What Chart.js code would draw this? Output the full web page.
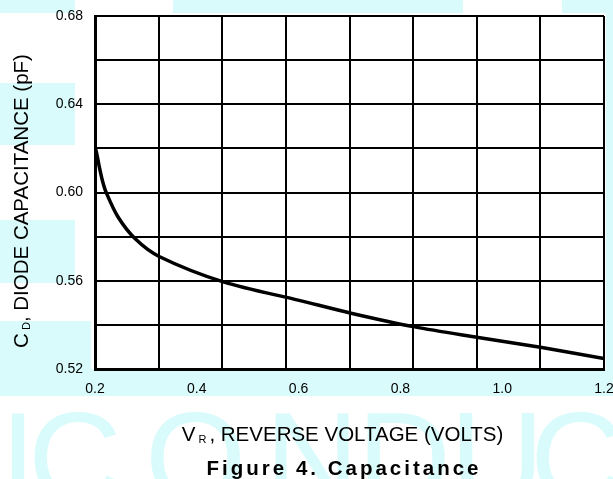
<!DOCTYPE html>
<html>
<head>
<meta charset="utf-8">
<script src="https://cdn.jsdelivr.net/npm/chart.js@4.4.0/dist/chart.umd.min.js"></script>
<style>
  html, body { margin: 0; padding: 0; background: #fff; }
</style>
</head>
<body>
<canvas id="capacitance" width="613" height="479"></canvas>
<script>
// values
var voltage     = [0.200, 0.204, 0.209, 0.215, 0.222, 0.245, 0.279, 0.326, 0.452, 0.603, 0.703, 0.828, 0.953, 1.078, 1.200];
var capacitance = [0.621, 0.617, 0.611, 0.605, 0.600, 0.589, 0.579, 0.571, 0.5595, 0.551, 0.5453, 0.5391, 0.5343, 0.5297, 0.5247];

var xGridTicks  = [0.2, 0.325, 0.45, 0.575, 0.7, 0.825, 0.95, 1.075, 1.2];
var xLabelTicks = [0.2, 0.4, 0.6, 0.8, 1.0, 1.2];
var yGridTicks  = [0.52, 0.54, 0.56, 0.58, 0.60, 0.62, 0.64, 0.66, 0.68];
var yLabelTicks = [0.52, 0.56, 0.60, 0.64, 0.68];

var FONT = '"Liberation Sans", Arial, sans-serif';
var CYAN = '#dafbfb';

function drawPieces(ctx, pieces, cx, baseline) {
  var total = 0;
  pieces.forEach(function(p) {
    ctx.font = (p.bold ? 'bold ' : '') + p.size + 'px ' + FONT;
    p.w = ctx.measureText(p.t).width;
    total += p.w;
  });
  var x = cx - total / 2;
  pieces.forEach(function(p) {
    ctx.font = (p.bold ? 'bold ' : '') + p.size + 'px ' + FONT;
    ctx.fillText(p.t, x, baseline + (p.dy || 0));
    x += p.w;
  });
}

var watermark = {
  id: 'watermark',
  beforeDraw: function(chart) {
    var ctx = chart.ctx;
    ctx.save();
    ctx.fillStyle = '#fff';
    ctx.fillRect(0, 0, chart.width, chart.height);
    ctx.fillStyle = CYAN;
    ctx.fillRect(0, 0, 75, 13);
    ctx.fillRect(173, 0, 290, 13);
    ctx.fillRect(562, 0, 51, 13);
    ctx.fillRect(0, 83, 75, 62);
    ctx.fillRect(0, 220, 75, 63);
    ctx.fillRect(0, 321, 91, 75);
    ctx.fillRect(606, 0, 7, 396);
    ctx.fillRect(0, 369, 613, 27);
    ctx.font = '130px ' + FONT;
    ctx.textBaseline = 'alphabetic';
    var letters = [['I', 0], ['C', 28], ['O', 145], ['N', 265], ['D', 357], ['U', 450], ['C', 530]];
    letters.forEach(function(l) { ctx.fillText(l[0], l[1], 503); });
    ctx.restore();
  }
};

var titles = {
  id: 'titles',
  afterDraw: function(chart) {
    var ctx = chart.ctx;
    var a = chart.chartArea;
    var cx = (a.left + a.right) / 2 - 7;
    ctx.save();
    ctx.fillStyle = '#000';
    ctx.textBaseline = 'alphabetic';
    drawPieces(ctx, [
      { t: 'V', size: 20.5 },
      { t: ' R ', size: 11, dy: 2 },
      { t: ', REVERSE VOLTAGE (VOLTS)', size: 20.5 }
    ], cx, 441);
    ctx.letterSpacing = '3px';
    drawPieces(ctx, [{ t: 'Figure 4. Capacitance', size: 20.5, bold: true }], cx + 1.5, 475);
    ctx.letterSpacing = '0px';
    ctx.translate(28, 201);
    ctx.rotate(-Math.PI / 2);
    drawPieces(ctx, [
      { t: 'C', size: 20.5 },
      { t: ' D', size: 11, dy: 2 },
      { t: ', DIODE CAPACITANCE (pF)', size: 20.5 }
    ], 0, 0);
    ctx.restore();
  }
};

var points = voltage.map(function(v, i) { return { x: v, y: capacitance[i] }; });

new Chart(document.getElementById('capacitance').getContext('2d'), {
  type: 'line',
  data: {
    datasets: [{
      data: points,
      xAxisID: 'x',
      yAxisID: 'y',
      borderColor: '#000',
      borderWidth: 3.5,
      pointRadius: 0,
      fill: false,
      tension: 0.3
    }]
  },
  options: {
    responsive: false,
    animation: false,
    devicePixelRatio: 1,
    layout: { padding: { left: 0, right: 9, top: 16, bottom: 0 } },
    plugins: {
      legend: { display: false },
      tooltip: { enabled: false }
    },
    scales: {
      x: {
        type: 'linear',
        position: 'bottom',
        weight: 0,
        min: 0.2,
        max: 1.2,
        afterBuildTicks: function(scale) {
          scale.ticks = xGridTicks.map(function(v) { return { value: v }; });
        },
        afterFit: function(scale) { scale.height = 0; scale.paddingLeft = 0; scale.paddingRight = 0; },
        ticks: { display: false },
        grid: { color: '#000', lineWidth: 2, drawTicks: false },
        border: { display: true, color: '#000', width: 3 }
      },
      x2: {
        type: 'linear',
        position: 'bottom',
        weight: 1,
        min: 0.2,
        max: 1.2,
        afterBuildTicks: function(scale) {
          scale.ticks = xLabelTicks.map(function(v) { return { value: v }; });
        },
        afterFit: function(scale) { scale.height = 110; scale.paddingLeft = 0; scale.paddingRight = 0; },
        ticks: {
          padding: 12,
          color: '#000',
          font: { family: FONT, size: 14 },
          maxRotation: 0,
          autoSkip: false,
          callback: function(v) { return v.toFixed(1); }
        },
        grid: { display: false, drawTicks: false },
        border: { display: false }
      },
      y: {
        type: 'linear',
        min: 0.52,
        max: 0.68,
        afterBuildTicks: function(scale) {
          scale.ticks = yGridTicks.map(function(v) { return { value: v }; });
        },
        afterFit: function(scale) { scale.width = 95; scale.paddingTop = 0; scale.paddingBottom = 0; },
        ticks: {
          padding: 12,
          color: '#000',
          font: { family: FONT, size: 14 },
          autoSkip: false,
          callback: function(v) {
            return yLabelTicks.some(function(t) { return Math.abs(t - v) < 1e-6; }) ? v.toFixed(2) : '';
          }
        },
        grid: { color: '#000', lineWidth: 2, drawTicks: false },
        border: { display: true, color: '#000', width: 3 }
      }
    }
  },
  plugins: [watermark, titles]
});
</script>
</body>
</html>
